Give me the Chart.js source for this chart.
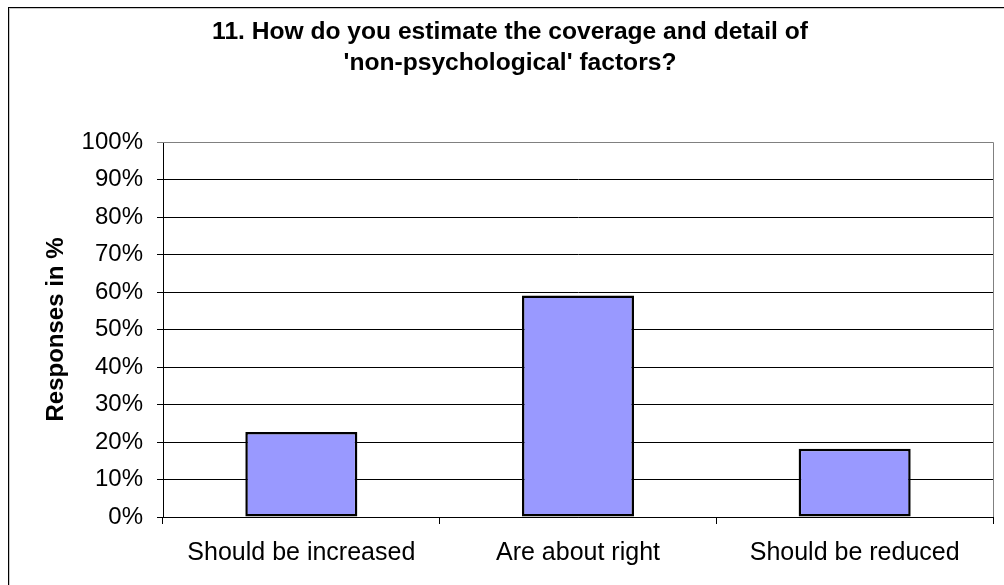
<!DOCTYPE html>
<html>
<head>
<meta charset="utf-8">
<script src="https://cdn.jsdelivr.net/npm/chart.js@4.4.1/dist/chart.umd.min.js"></script>
<style>
  html, body { margin: 0; padding: 0; background: #ffffff; }
  #wrap { position: relative; width: 1004px; height: 585px; overflow: hidden; }
  #frame { position: absolute; left: 8px; top: 7px; width: 1010px; height: 600px;
           border-left: 1px solid #000; border-top: 1px solid #000;
           box-shadow: inset 1px 1px 0 #c8c8c8; }
  canvas { position: absolute; left: 0; top: 0; }
</style>
</head>
<body>
<div id="wrap">
  <div id="frame"></div>
  <canvas id="c" width="1004" height="585"></canvas>
</div>
<script>
const titleLines = ["11. How do you estimate the coverage and detail of", "'non-psychological' factors?"];
const categories = ["Should be increased", "Are about right", "Should be reduced"];
const responses = [22.7, 59.1, 18.2];
const yAxisTitle = "Responses in %";

const FONT = "'Liberation Sans', Arial, sans-serif";

// Title lines and the grey top/right edges of the plot frame
const decorations = {
  id: 'decorations',
  afterDraw(chart) {
    const ctx = chart.ctx;
    const a = chart.chartArea;
    ctx.save();
    ctx.strokeStyle = '#808080';
    ctx.lineWidth = 1;
    ctx.beginPath();
    ctx.moveTo(a.left, a.top + 0.5);
    ctx.lineTo(a.right + 0.5, a.top + 0.5);
    ctx.lineTo(a.right + 0.5, a.bottom);
    ctx.stroke();
    ctx.fillStyle = '#000';
    ctx.font = "bold 24.6px " + FONT;
    ctx.textAlign = 'center';
    ctx.textBaseline = 'middle';
    ctx.fillText(titleLines[0], 510, 32);
    ctx.fillText(titleLines[1], 510, 63);
    ctx.restore();
  }
};

new Chart(document.getElementById('c'), {
  type: 'bar',
  data: {
    labels: categories,
    datasets: [{
      data: responses,
      backgroundColor: '#9999ff',
      borderColor: '#000000',
      borderWidth: 2.5,
      borderSkipped: false,
      categoryPercentage: 1.0,
      barPercentage: 0.405
    }]
  },
  options: {
    responsive: false,
    animation: false,
    events: [],
    layout: { padding: { left: 10, right: 11, top: 142, bottom: 0 } },
    plugins: { legend: { display: false }, title: { display: false }, tooltip: { enabled: false } },
    scales: {
      x: {
        grid: { offset: true, drawOnChartArea: false, drawTicks: true, tickLength: 7, color: '#000', lineWidth: 1 },
        border: { display: true, color: '#000', width: 1 },
        ticks: { color: '#000', font: { family: FONT, size: 25 }, padding: 14, maxRotation: 0 },
        afterFit(scale) { scale.height = 68; }
      },
      y: {
        min: 0, max: 100,
        ticks: { stepSize: 10, color: '#000', font: { family: FONT, size: 24 }, padding: 14,
                 callback: v => v + '%' },
        grid: {
          color: ctx => (ctx.tick && ctx.tick.value === 100) ? '#808080' : '#000',
          lineWidth: 1, tickLength: 6, drawTicks: true
        },
        border: { display: true, color: '#000', width: 1 },
        title: { display: true, text: yAxisTitle, color: '#000',
                 font: { family: FONT, size: 24, weight: 'bold' }, padding: { top: 32, bottom: 0 } },
        afterFit(scale) { scale.width = 153; }
      }
    }
  },
  plugins: [decorations]
});
</script>
</body>
</html>
